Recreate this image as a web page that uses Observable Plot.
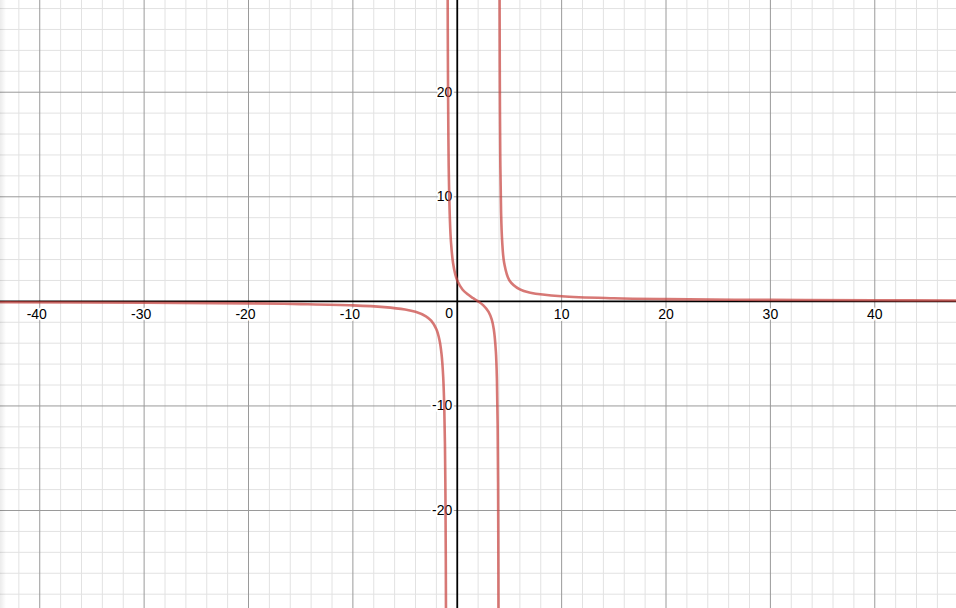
<!DOCTYPE html>
<html>
<head>
<meta charset="utf-8">
<script src="https://cdn.jsdelivr.net/npm/d3@7"></script>
<script src="https://cdn.jsdelivr.net/npm/@observablehq/plot@0.6"></script>
<style>
  html, body { margin: 0; padding: 0; background: #fff; }
  #wrap { position: relative; width: 956px; height: 608px; overflow: hidden; }
  #shade { position: absolute; left: 0; top: 0; width: 6px; height: 608px;
           background: linear-gradient(to right, rgba(0,0,0,0.08), rgba(0,0,0,0)); pointer-events: none; }
  svg { display: block; }
</style>
</head>
<body>
<div id="wrap"><div id="shade"></div></div>
<script>
// Branch left of the left asymptote
const b1x = [-44, -30, -20, -15, -10, -7, -5, -4, -3, -2.5, -2, -1.7, -1.5, -1.35, -1.25, -1.18, -1.13, -1.1, -1.08];
const b1y = [-0.09, -0.13, -0.19, -0.26, -0.38, -0.55, -0.78, -1.0, -1.43, -1.85, -2.67, -3.71, -5.09, -7.16, -9.9, -13.6, -18.8, -24.3, -30.3];
// Middle branch between asymptotes
const b2x = [-0.92, -0.9, -0.85, -0.8, -0.7, -0.6, -0.4, -0.2, 0, 0.5, 1, 1.5, 2, 2.5, 3, 3.3, 3.5, 3.7, 3.8, 3.87, 3.91, 3.94, 3.95];
const b2y = [29.7, 23.7, 15.7, 11.67, 7.66, 5.65, 3.64, 2.62, 2, 1.14, 0.67, 0.32, 0, -0.38, -1, -1.73, -2.67, -4.82, -7.5, -11.8, -17.3, -26.2, -31.5];
// Branch right of the right asymptote
const b3x = [4.05, 4.06, 4.08, 4.12, 4.2, 4.3, 4.5, 5, 6, 7, 10, 15, 20, 30, 40, 48];
const b3y = [32.5, 27.1, 20.5, 13.8, 8.46, 5.79, 3.64, 2, 1.14, 0.83, 0.485, 0.295, 0.214, 0.139, 0.103, 0.085];

// Tick labels
const xLabelsNeg = [-40, -30, -20, -10];
const xLabelsPos = [10, 20, 30, 40];
const yLabels = [-20, -10, 10, 20];
// Grid lines
const xMajor = [-40, -30, -20, -10, 10, 20, 30, 40];
const yMajor = [-20, -10, 10, 20];
const xMinor = [-44,-42,-38,-36,-34,-32,-28,-26,-24,-22,-18,-16,-14,-12,-8,-6,-4,-2,2,4,6,8,12,14,16,18,22,24,26,28,32,34,36,38,42,44,46,48];
const yMinor = [-30,-28,-26,-24,-22,-18,-16,-14,-12,-8,-6,-4,-2,2,4,6,8,12,14,16,18,22,24,26,28,30];

const toPts = (xs, ys, b) => xs.map((x, i) => ({x, y: ys[i], b}));
const curve = [...toPts(b1x, b1y, 1), ...toPts(b2x, b2y, 2), ...toPts(b3x, b3y, 3)];

const halo = {fill: "#000", stroke: "#fff", strokeWidth: 4, paintOrder: "stroke", fontSize: 14, fontFamily: "Arial, 'Liberation Sans', sans-serif"};

const chart = Plot.plot({
  width: 956,
  height: 608,
  margin: 0,
  x: {domain: [-43.76, 47.83], axis: null},
  y: {domain: [-29.37, 28.77], axis: null},
  style: {background: "#fff"},
  marks: [
    Plot.ruleX(xMinor, {stroke: "#e2e2e2", strokeWidth: 1}),
    Plot.ruleY(yMinor, {stroke: "#e2e2e2", strokeWidth: 1}),
    Plot.ruleX(xMajor, {stroke: "#9a9a9a", strokeWidth: 1}),
    Plot.ruleY(yMajor, {stroke: "#9a9a9a", strokeWidth: 1}),
    Plot.text(xLabelsNeg, {x: d => d, y: 0, text: d => String(d), dy: 13, dx: -3, ...halo}),
    Plot.text(xLabelsPos, {x: d => d, y: 0, text: d => String(d), dy: 13, ...halo}),
    Plot.text(yLabels, {x: 0, y: d => d, text: d => String(d), textAnchor: "end", dx: -5, ...halo}),
    Plot.text([0], {x: 0, y: 0, text: d => "0", dx: -8, dy: 12, ...halo}),
    Plot.ruleX([0], {stroke: "#000", strokeWidth: 1.8}),
    Plot.ruleY([0], {stroke: "#000", strokeWidth: 1.8}),
    Plot.line(curve, {x: "x", y: "y", z: "b", curve: "catmull-rom", stroke: "#c74440", strokeOpacity: 0.72, strokeWidth: 2.6, clip: true})
  ]
});
document.getElementById("wrap").prepend(chart);
</script>
</body>
</html>
